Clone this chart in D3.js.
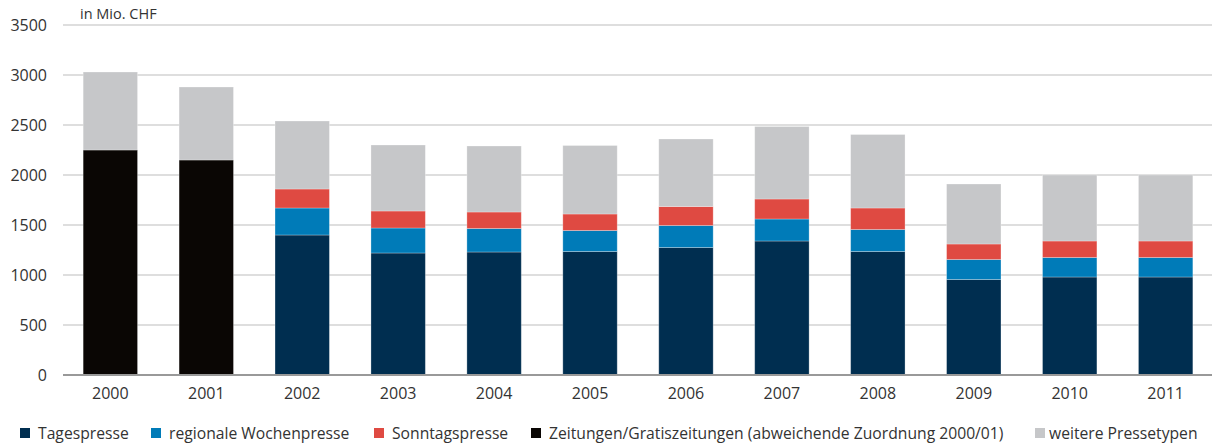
<!DOCTYPE html>
<html><head><meta charset="utf-8">
<script src="https://cdn.jsdelivr.net/npm/d3@7"></script>
<style>
html,body{margin:0;padding:0;background:#fff;}
svg text{font-family:"Open Sans","Noto Sans",sans-serif;fill:#333;}
</style></head>
<body><svg id="c" width="1212" height="445"></svg>
<script>
const years = ["2000","2001","2002","2003","2004","2005","2006","2007","2008","2009","2010","2011"];
const tagespresse = [0,0,1400,1220,1230,1235,1275,1340,1235,955,980,980];
const regionaleWochenpresse = [0,0,270,250,235,210,220,220,220,200,195,195];
const sonntagspresse = [0,0,190,170,165,165,190,200,215,155,165,165];
const zeitungenGratis = [2250,2150,0,0,0,0,0,0,0,0,0,0];
const weiterePressetypen = [780,730,680,660,660,685,675,725,735,600,660,660];
const yTicks = [0,500,1000,1500,2000,2500,3000,3500];
const seriesNames = ["Tagespresse","regionale Wochenpresse","Sonntagspresse","Zeitungen/Gratiszeitungen (abweichende Zuordnung 2000/01)","weitere Pressetypen"];
const seriesKeys = ["t","r","s","z","w"];
const colors = ["#002e50","#007bb8","#df4a42","#0a0604","#c6c7c9"];

const rows = years.map((y,i)=>({year:y,t:tagespresse[i],r:regionaleWochenpresse[i],s:sonntagspresse[i],z:zeitungenGratis[i],w:weiterePressetypen[i]}));
const stackOrder = ["z","t","r","s","w"];
const stack = d3.stack().keys(stackOrder)(rows);

const svg = d3.select("#c");
const x = d3.scaleBand().domain(years).range([63,1213]).paddingInner(0.433).paddingOuter(0.21);
const y = d3.scaleLinear().domain([0,3500]).range([375,25]);

// gridlines
svg.append("g").selectAll("line").data(yTicks.filter(d=>d>0)).join("line")
  .attr("x1",63).attr("x2",1212).attr("y1",d=>y(d)).attr("y2",d=>y(d))
  .attr("stroke","#d3d3d3").attr("stroke-width",1.5);

// y labels
const yAxis = d3.axisLeft(y).tickValues(yTicks).tickFormat(d3.format("d")).tickSize(0).tickPadding(0);
const ya = svg.append("g").attr("transform","translate(47,0)").call(yAxis);
ya.select(".domain").remove();
ya.selectAll("text").attr("font-size",16).attr("fill","#222").style("font-family","'Open Sans','Noto Sans',sans-serif");

// bars
svg.append("g").selectAll("g").data(stack).join("g")
  .attr("fill",d=>colors[seriesKeys.indexOf(d.key)])
  .selectAll("rect").data(d=>d.filter(e=>e[1]-e[0]>0)).join("rect")
  .attr("x",d=>x(d.data.year)).attr("width",x.bandwidth())
  .attr("y",d=>y(d[1])).attr("height",d=>y(d[0])-y(d[1]))
  .attr("stroke","rgba(255,255,255,0.35)").attr("stroke-width",0.8);

// baseline
svg.append("line").attr("x1",63).attr("x2",1212).attr("y1",y(0)).attr("y2",y(0))
  .attr("stroke","#999").attr("stroke-width",2);

// x labels
const xAxis = d3.axisBottom(x).tickSize(0).tickPadding(13);
const xa = svg.append("g").attr("transform",`translate(0,${y(0)})`).call(xAxis);
xa.select(".domain").remove();
xa.selectAll("text").attr("font-size",16).attr("fill","#222").style("font-family","'Open Sans','Noto Sans',sans-serif");

// unit label
svg.append("text").attr("x",80).attr("y",19).attr("font-size",14.5).text("in Mio. CHF");

// legend
const legendX = [20,151,374,531,1035];
const lg = svg.append("g").selectAll("g").data(seriesNames).join("g")
  .attr("transform",(d,i)=>`translate(${legendX[i]},433)`);
lg.append("rect").attr("x",0).attr("y",-5).attr("width",10).attr("height",10)
  .attr("fill",(d,i)=>colors[i]);
lg.append("text").attr("x",(d,i)=>i===4?14:18).attr("y",5.5).attr("font-size",15.7).text(d=>d);
</script></body></html>
